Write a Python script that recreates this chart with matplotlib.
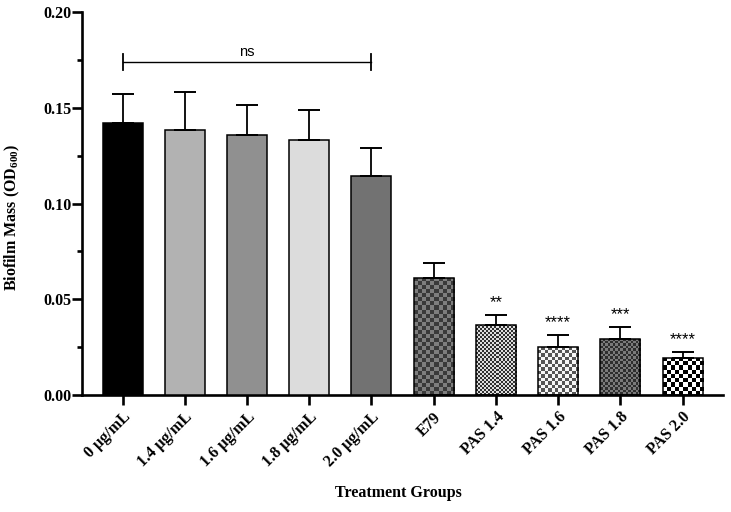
import numpy as np
import matplotlib
matplotlib.use("Agg")
import matplotlib.pyplot as plt
from matplotlib.colors import ListedColormap

categories = ["0 µg/mL", "1.4 µg/mL", "1.6 µg/mL", "1.8 µg/mL", "2.0 µg/mL",
              "E79", "PAS 1.4", "PAS 1.6", "PAS 1.8", "PAS 2.0"]
means = [0.142, 0.1385, 0.136, 0.1333, 0.1146, 0.0613, 0.0366, 0.0253, 0.0293, 0.0195]
errors = [0.0155, 0.0198, 0.0157, 0.0157, 0.0147, 0.0075, 0.0050, 0.0059, 0.0061, 0.0028]
stars = ["", "", "", "", "", "", "**", "****", "***", "****"]
ns_from, ns_to, ns_level = 0, 4, 0.1742
yticks = [0.00, 0.05, 0.10, 0.15, 0.20]

# fill style: solid colour or checkerboard (dark, light, cell px)
fills = [("solid", "#000000"), ("solid", "#b2b2b2"), ("solid", "#909090"),
         ("solid", "#dcdcdc"), ("solid", "#727272"),
         ("check", "#3a3a3a", "#7e7e7e", 4.0),
         ("check", "#303030", "#dedede", 2.0),
         ("check", "#555555", "#f6f6f6", 3.4),
         ("check", "#2e2e2e", "#7a7a7a", 2.5),
         ("check", "#000000", "#ffffff", 4.0)]

plt.rcParams["mathtext.fontset"] = "custom"
plt.rcParams["mathtext.rm"] = "Liberation Serif:bold"
plt.rcParams["mathtext.bf"] = "Liberation Serif:bold"
plt.rcParams["mathtext.default"] = "rm"

W, H, DPI = 7.31, 5.12, 100
fig = plt.figure(figsize=(W, H), dpi=DPI)
ax_l, ax_r, ax_b, ax_t = 82 / 731, 723 / 731, (512 - 395) / 512, (512 - 12.3) / 512
ax = fig.add_axes([ax_l, ax_b, ax_r - ax_l, ax_t - ax_b])

x = np.arange(len(categories))
bw = 0.643
xlim = (-0.651, 9.65)
ylim = (0.0, 0.20)
ax.set_xlim(*xlim)
ax.set_ylim(*ylim)

px_per_x = (ax_r - ax_l) * W * DPI / (xlim[1] - xlim[0])
px_per_y = (ax_t - ax_b) * H * DPI / (ylim[1] - ylim[0])

face = [f[1] if f[0] == "solid" else "none" for f in fills]
bars = ax.bar(x, means, width=bw, color=face, edgecolor="black", linewidth=1.1, zorder=3)

for b, f, m in zip(bars, fills, means):
    if f[0] != "check":
        continue
    _, dark, light, cell = f
    x0 = b.get_x()
    x1 = x0 + b.get_width()
    cols = max(1, int(round(b.get_width() * px_per_x / cell)))
    rows = max(1, int(round(m * px_per_y / cell)))
    grid = (np.add.outer(np.arange(rows), np.arange(cols)) % 2).astype(float)
    cmap = ListedColormap([dark, light])
    im = ax.imshow(grid, cmap=cmap, vmin=0, vmax=1, extent=[x0, x1, 0, m],
                   aspect="auto", interpolation="nearest", origin="lower", zorder=2)
    im.set_clip_path(b)

ax.set_xlim(*xlim)
ax.set_ylim(*ylim)

ax.errorbar(x, means, yerr=[np.zeros(len(means)), errors], fmt="none",
            ecolor="black", elinewidth=1.3, capsize=7.9, capthick=1.4, zorder=4)

# stars (baseline placed so the asterisk ink centre sits ~0.0095 above the cap)
star_fs = 12
star_shift = 0.59 * star_fs * DPI / 72 / px_per_y
for xi, m, e, s in zip(x, means, errors, stars):
    if s:
        ax.text(xi, m + e + 0.0095 - star_shift, s, ha="center", va="baseline",
                fontsize=star_fs, fontfamily="Liberation Sans", zorder=5)

# ns bracket
ax.plot([ns_from, ns_to], [ns_level, ns_level], color="black", lw=1.0, zorder=5)
for xe in (ns_from, ns_to):
    ax.plot([xe, xe], [ns_level - 0.0042, ns_level + 0.0042], color="black", lw=1.3, zorder=5)
ax.text((ns_from + ns_to) / 2, ns_level + 0.0048, "ns", ha="center", va="center",
        fontsize=10.5, fontfamily="Liberation Sans")

for sp in ("top", "right"):
    ax.spines[sp].set_visible(False)
for sp in ("left", "bottom"):
    ax.spines[sp].set_linewidth(1.9)

ax.set_yticks(yticks)
ax.set_yticklabels([f"{v:.2f}" for v in yticks], fontfamily="Liberation Serif",
                   fontweight="bold", fontsize=11.5)
ax.set_yticks(np.arange(0.025, 0.2, 0.05), minor=True)
ax.tick_params(axis="y", which="major", length=7.2, width=1.9, pad=0.5)
ax.tick_params(axis="y", which="minor", length=3.8, width=1.9)
ax.set_xticks(x)
ax.set_xticklabels(categories, rotation=45, ha="right", rotation_mode="anchor",
                   fontfamily="Liberation Serif", fontweight="bold", fontsize=11.5)
ax.tick_params(axis="x", which="major", length=7.2, width=1.9, pad=3)

ax.set_ylabel("Biofilm Mass (OD$_{600}$)", fontfamily="Liberation Serif",
              fontweight="bold", fontsize=11.5)
ax.yaxis.set_label_coords(-0.093, 0.465)
fig.text((ax_l + ax_r) / 2 - 0.005, 1 - 493 / 512, "Treatment Groups", ha="center", va="center",
         fontfamily="Liberation Serif", fontweight="bold", fontsize=11.5)

fig.savefig("out.png", dpi=DPI)
